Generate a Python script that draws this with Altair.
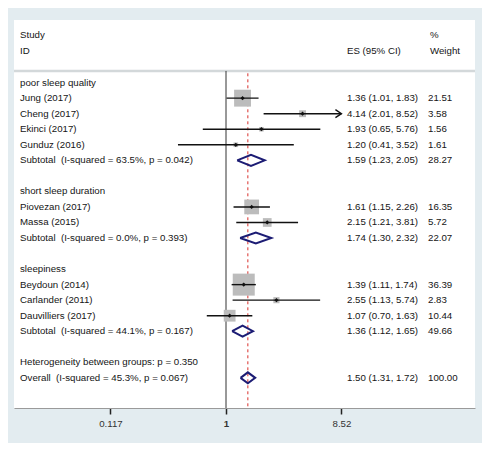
import altair as alt
import pandas as pd

# ---- data ----
studies = ["Jung (2017)", "Cheng (2017)", "Ekinci (2017)", "Gunduz (2016)",
           "Piovezan (2017)", "Massa (2015)",
           "Beydoun (2014)", "Carlander (2011)", "Dauvilliers (2017)"]
study_es = [1.36, 4.14, 1.93, 1.20, 1.61, 2.15, 1.39, 2.55, 1.07]
study_lo = [1.01, 2.01, 0.65, 0.41, 1.15, 1.21, 1.11, 1.13, 0.70]
study_hi = [1.83, 8.52, 5.76, 3.52, 2.26, 3.81, 1.74, 5.74, 1.63]
study_w = [21.51, 3.58, 1.56, 1.61, 16.35, 5.72, 36.39, 2.83, 10.44]
study_rows = [1, 2, 3, 4, 8, 9, 13, 14, 15]

NB = "\u00a0"
sub_labels = [f"Subtotal{NB}{NB}(I-squared = 63.5%, p = 0.042)",
              f"Subtotal{NB}{NB}(I-squared = 0.0%, p = 0.393)",
              f"Subtotal{NB}{NB}(I-squared = 44.1%, p = 0.167)",
              f"Overall{NB}{NB}(I-squared = 45.3%, p = 0.067)"]
sub_es = [1.59, 1.74, 1.36, 1.50]
sub_lo = [1.23, 1.30, 1.12, 1.31]
sub_hi = [2.05, 2.32, 1.65, 1.72]
sub_w = [28.27, 22.07, 49.66, 100.00]
sub_rows = [5, 10, 16, 19]

group_labels = ["poor sleep quality", "short sleep duration", "sleepiness",
                "Heterogeneity between groups: p = 0.350"]
group_rows = [0, 7, 12, 18]

overall_es = 1.50
tick_values = [0.117, 1, 8.52]
x_min, x_max = 0.01954, 101.7

# ---- tables ----
studies_df = pd.DataFrame({"label": studies, "es": study_es, "lo": study_lo,
                           "hi": study_hi, "w": study_w, "row": study_rows})
studies_df["es_txt"] = [f"{e:.2f} ({l:.2f}, {h:.2f})" for e, l, h in zip(study_es, study_lo, study_hi)]
studies_df["w_txt"] = [f"{w:.2f}" for w in study_w]

subs_df = pd.DataFrame({"label": sub_labels, "es": sub_es, "lo": sub_lo,
                        "hi": sub_hi, "w": sub_w, "row": sub_rows})
subs_df["es_txt"] = [f"{e:.2f} ({l:.2f}, {h:.2f})" for e, l, h in zip(sub_es, sub_lo, sub_hi)]
subs_df["w_txt"] = [f"{w:.2f}" for w in sub_w]

groups_df = pd.DataFrame({"label": group_labels, "row": group_rows, "es_txt": "", "w_txt": ""})

text_df = pd.concat([studies_df[["label", "row", "es_txt", "w_txt"]],
                     subs_df[["label", "row", "es_txt", "w_txt"]],
                     groups_df], ignore_index=True)

half = 0.354
dia = []
for i, (e, l, h, r) in enumerate(zip(sub_es, sub_lo, sub_hi, sub_rows)):
    pts = [(l, r), (e, r - half), (h, r), (e, r + half), (l, r)]
    for k, (px, py) in enumerate(pts):
        dia.append({"g": i, "o": k, "x": px, "y": py})
dia_df = pd.DataFrame(dia)

header_df = pd.DataFrame({
    "txt": ["Study", "ID", "ES (95% CI)", "%", "Weight"],
    "row": [-3.07, -2.04, -2.04, -3.07, -2.04],
    "px": [6, 6, 333, 416, 416],
})

W, H = 461, 388
FONT = "Liberation Sans"
FS = 9.7
TXT = "#151515"

xs = alt.Scale(type="log", domain=[x_min, x_max], nice=False)
ys = alt.Scale(domain=[-4.03, 20.94], reverse=True, nice=False, zero=False)

x_axis = alt.Axis(values=tick_values, grid=False, title=None, ticks=True,
                  tickColor="#222222", tickWidth=1.5, tickSize=6, tickOpacity=1,
                  labelExpr="datum.value == 1 ? '1' : format(datum.value, '.3~g')",
                  labelFont=FONT, labelFontSize=FS, labelColor="#333333",
                  labelFontWeight={"condition": {"test": "datum.value == 1", "value": "bold"}, "value": "normal"},
                  domainColor="#9a9a9a", domainWidth=1,
                  labelPadding=4, labelFlush=False, zindex=1)

base = alt.Chart(studies_df)

axis_layer = alt.Chart(pd.DataFrame({"x": [1.0], "y": [0.0]})).mark_point(opacity=0).encode(
    x=alt.X("x:Q", scale=xs, axis=x_axis),
    y=alt.Y("y:Q", scale=ys, axis=None),
)

separator = alt.Chart(pd.DataFrame({"y": [-0.75]})).mark_rule(color="#d3d8da", strokeWidth=2.5).encode(
    x=alt.value(0), x2=alt.value(W), y=alt.Y("y:Q", scale=ys, axis=None)
)

null_line = alt.Chart(pd.DataFrame({"x": [1.0], "y": [-0.75], "y2": [20.94]})).mark_rule(
    color="#333333", strokeWidth=1).encode(
    x=alt.X("x:Q", scale=xs, axis=x_axis), y=alt.Y("y:Q", scale=ys, axis=None), y2="y2:Q"
)

ov_line = alt.Chart(pd.DataFrame({"x": [overall_es], "y": [-0.6], "y2": [20.94]})).mark_rule(
    color="#d9302c", strokeWidth=1, strokeDash=[3, 3]).encode(
    x=alt.X("x:Q", scale=xs, axis=x_axis), y=alt.Y("y:Q", scale=ys, axis=None), y2="y2:Q"
)

boxes = base.mark_square(color="#bcbcbc", opacity=1).encode(
    x=alt.X("es:Q", scale=xs, axis=x_axis),
    y=alt.Y("row:Q", scale=ys, axis=None),
    size=alt.Size("w:Q", scale=alt.Scale(domain=[0, 36.39], range=[0, 484]), legend=None),
)

ci = base.mark_rule(color="#111111", strokeWidth=1.4).encode(
    x=alt.X("lo:Q", scale=xs, axis=x_axis), x2="hi:Q",
    y=alt.Y("row:Q", scale=ys, axis=None),
)

arrows = base.transform_filter(f"datum.hi >= {tick_values[-1]}").mark_point(
    shape="M-1.2,-0.8L0,0L-1.2,0.8", filled=False, color="#111111", strokeWidth=1.4,
    size=100, opacity=1).encode(
    x=alt.X("hi:Q", scale=xs, axis=x_axis),
    y=alt.Y("row:Q", scale=ys, axis=None),
)

points = base.mark_point(shape="diamond", filled=True, color="#111111", size=18, opacity=1).encode(
    x=alt.X("es:Q", scale=xs, axis=x_axis),
    y=alt.Y("row:Q", scale=ys, axis=None),
)

diamonds = alt.Chart(dia_df).mark_line(color="#1c1c74", strokeWidth=2, strokeJoin="miter").encode(
    x=alt.X("x:Q", scale=xs, axis=x_axis),
    y=alt.Y("y:Q", scale=ys, axis=None),
    detail="g:N",
    order="o:Q",
)

def text_layer(df, field, px):
    return alt.Chart(df).mark_text(align="left", baseline="middle", font=FONT,
                                   fontSize=FS, color=TXT).encode(
        x=alt.value(px), y=alt.Y("row:Q", scale=ys, axis=None), text=f"{field}:N"
    )

labels = text_layer(text_df, "label", 6)
es_txt = text_layer(text_df, "es_txt", 333)
w_txt = text_layer(text_df, "w_txt", 414)

headers = alt.Chart(header_df).mark_text(align="left", baseline="middle", font=FONT,
                                         fontSize=FS, color=TXT).encode(
    x=alt.X("px:Q", scale=None), y=alt.Y("row:Q", scale=ys, axis=None), text="txt:N"
)

chart = alt.layer(
    axis_layer, separator, null_line, ov_line, boxes, ci, arrows, points, diamonds,
    labels, es_txt, w_txt, headers
).properties(
    width=W, height=H,
    padding={"left": 6, "top": 12, "right": 7, "bottom": 35},
    autosize=alt.AutoSizeParams(type="none"),
    background="#e3ecf0",
).configure_view(fill="white", stroke=None)

chart.save("out.html", embed_options={"renderer": "svg", "actions": False})
